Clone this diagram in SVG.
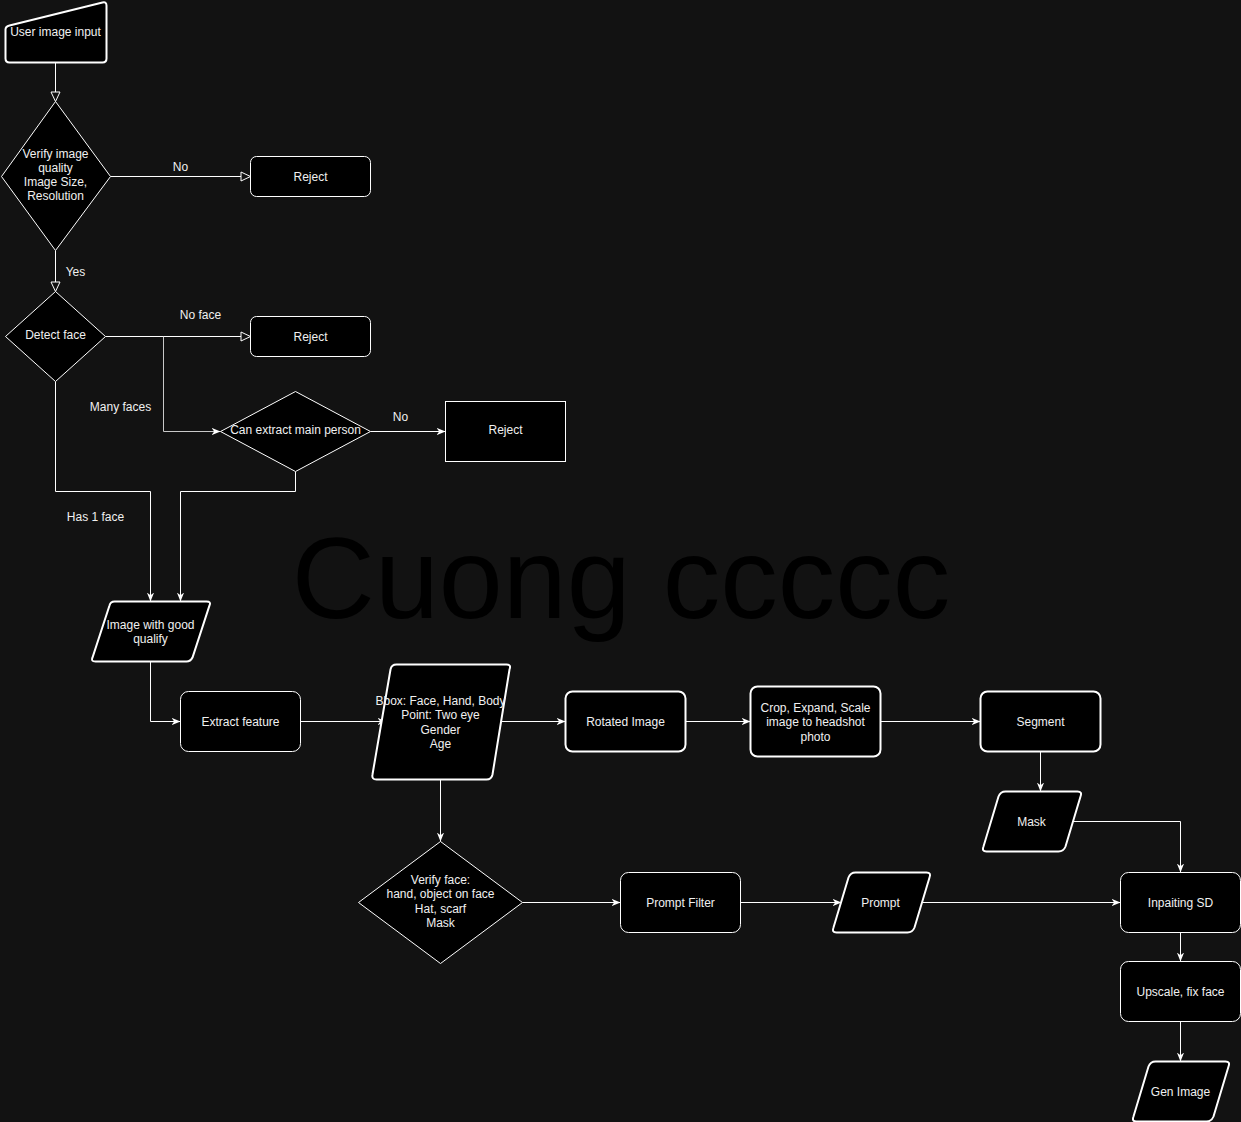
<svg xmlns="http://www.w3.org/2000/svg" width="1241" height="1122" viewBox="0 0 1241 1122">
<defs>
<style>
.n{fill:#000;stroke:#fff;stroke-width:1}
.t{stroke-width:2}
.tx{fill:#f0f0f0;font-family:"Liberation Sans",Arial,sans-serif;font-size:12px;text-anchor:middle}
.lb{fill:#f0f0f0;font-family:"Liberation Sans",Arial,sans-serif;font-size:12px;text-anchor:middle}
.e{fill:none;stroke:#fff;stroke-width:1}
.c{marker-end:url(#classic)}
.o{marker-end:url(#open)}
</style>
<marker id="classic" markerUnits="userSpaceOnUse" viewBox="0 0 10 10" refX="10" refY="5" markerWidth="9" markerHeight="9" orient="auto">
<path d="M0,1 L10,5 L0,9 L3,5 z" fill="#fff"/>
</marker>
<marker id="open" markerUnits="userSpaceOnUse" viewBox="0 0 12 12" refX="11" refY="6" markerWidth="12" markerHeight="12" orient="auto">
<path d="M1.5,1.5 L11,6 L1.5,10.5 z" fill="#121212" stroke="#fff" stroke-width="1"/>
</marker>
</defs>
<rect width="1241" height="1122" fill="#121212"/>
<text x="621" y="618" font-family="'Liberation Sans',Arial,sans-serif" font-size="115" fill="#000" text-anchor="middle">Cuong ccccc</text>
<g transform="translate(0.5,0.5)">
<g id="edges">
<path class="e o" d="M55,62 V101"/>
<path class="e o" d="M110,176 H250"/>
<path class="e o" d="M55,250 V291"/>
<path class="e o" d="M105,336 H250"/>
<path class="e c" d="M163,336 V431 H220" stroke="#bbb" style="stroke:#c8c8c8"/>
<path class="e c" d="M370,431 H445"/>
<path class="e c" d="M55,381 V491 H150 V601"/>
<path class="e c" d="M295,471 V491 H180 V601"/>
<path class="e c" d="M150,661 V721 H180"/>
<path class="e c" d="M300,721 H386"/>
<path class="e c" d="M500,721 H565"/>
<path class="e c" d="M685,721 H750"/>
<path class="e c" d="M880,721 H980"/>
<path class="e c" d="M1040,751 V791"/>
<path class="e c" d="M1071,821 H1180 V872"/>
<path class="e c" d="M440,779 V841"/>
<path class="e c" d="M522,902 H620"/>
<path class="e c" d="M740,902 H841"/>
<path class="e c" d="M921,902 H1120"/>
<path class="e c" d="M1180,932 V961"/>
<path class="e c" d="M1180,1021 V1061"/>
<text class="lb" x="180" y="170" font-size="11">No</text>
<text class="lb" x="75" y="275" font-size="11">Yes</text>
<text class="lb" x="200" y="318">No face</text>
<text class="lb" x="120" y="410">Many faces</text>
<text class="lb" x="400" y="420">No</text>
<text class="lb" x="95" y="520">Has 1 face</text>
</g>

<g id="user-input">
<path class="n t" d="M9,25 L102,2 Q106,1 106,5 V58 Q106,62 102,62 H9 Q5,62 5,58 V29 Q5,26 9,25 Z"/>
<text class="tx" x="55" y="35">User image input</text>
</g>
<g id="verify-quality">
<path class="n" d="M55,101 L110,176 L55,250 L1,176 Z"/>
<text class="tx" x="55" y="157">Verify image</text>
<text class="tx" x="55" y="171">quality</text>
<text class="tx" x="55" y="185">Image Size,</text>
<text class="tx" x="55" y="199">Resolution</text>
</g>
<g id="reject1">
<rect class="n" x="250" y="156" width="120" height="40" rx="6"/>
<text class="tx" x="310" y="180">Reject</text>
</g>
<g id="detect-face">
<path class="n" d="M55,291 L105,336 L55,381 L5,336 Z"/>
<text class="tx" x="55" y="338">Detect face</text>
</g>
<g id="reject2">
<rect class="n" x="250" y="316" width="120" height="40" rx="6"/>
<text class="tx" x="310" y="340">Reject</text>
</g>
<g id="extract-main">
<path class="n" d="M295,391 L370,431 L295,471 L220,431 Z"/>
<text class="tx" x="295" y="433">Can extract main person</text>
</g>
<g id="reject3">
<rect class="n" x="445" y="401" width="120" height="60"/>
<text class="tx" x="505" y="433">Reject</text>
</g>
<g id="good-image">
<path class="n t" d="M114,601 H206 Q211,601 209,605 L192,657 Q190,661 186,661 H95 Q90,661 92,657 L109,605 Q110,601 114,601 Z"/>
<text class="tx" x="150" y="628">Image with good</text>
<text class="tx" x="150" y="642">qualify</text>
</g>
<g id="extract-feature">
<rect class="n" x="180" y="691" width="120" height="60" rx="8"/>
<text class="tx" x="240" y="725">Extract feature</text>
</g>
<g id="features">
<path class="n t" d="M396,664 H506 Q511,664 509,669 L492,774 Q491,779 486,779 H376 Q371,779 372,774 L390,669 Q391,664 396,664 Z"/>
<text class="tx" x="440" y="704">Bbox: Face, Hand, Body</text>
<text class="tx" x="440" y="718">Point: Two eye</text>
<text class="tx" x="440" y="733">Gender</text>
<text class="tx" x="440" y="747">Age</text>
</g>
<g id="rotated">
<rect class="n t" x="565" y="691" width="120" height="60" rx="7"/>
<text class="tx" x="625" y="725">Rotated Image</text>
</g>
<g id="crop">
<rect class="n t" x="750" y="686" width="130" height="70" rx="7"/>
<text class="tx" x="815" y="711">Crop, Expand, Scale</text>
<text class="tx" x="815" y="725">image to headshot</text>
<text class="tx" x="815" y="740">photo</text>
</g>
<g id="segment">
<rect class="n t" x="980" y="691" width="120" height="60" rx="7"/>
<text class="tx" x="1040" y="725">Segment</text>
</g>
<g id="mask">
<path class="n t" d="M1005,791 H1077 Q1082,791 1080,796 L1065,846 Q1063,851 1058,851 H986 Q981,851 983,846 L998,796 Q1000,791 1005,791 Z"/>
<text class="tx" x="1031" y="825">Mask</text>
</g>
<g id="verify-face">
<path class="n" d="M440,841 L522,902 L440,963 L358,902 Z"/>
<text class="tx" x="440" y="883">Verify face:</text>
<text class="tx" x="440" y="897">hand, object on face</text>
<text class="tx" x="440" y="912">Hat, scarf</text>
<text class="tx" x="440" y="926">Mask</text>
</g>
<g id="prompt-filter">
<rect class="n" x="620" y="872" width="120" height="60" rx="8"/>
<text class="tx" x="680" y="906">Prompt Filter</text>
</g>
<g id="prompt">
<path class="n t" d="M855,872 H926 Q931,872 929,877 L914,927 Q912,932 907,932 H836 Q831,932 833,927 L848,877 Q850,872 855,872 Z"/>
<text class="tx" x="880" y="906">Prompt</text>
</g>
<g id="inpainting">
<rect class="n" x="1120" y="872" width="120" height="60" rx="8"/>
<text class="tx" x="1180" y="906">Inpaiting SD</text>
</g>
<g id="upscale">
<rect class="n" x="1120" y="961" width="120" height="60" rx="8"/>
<text class="tx" x="1180" y="995">Upscale, fix face</text>
</g>
<g id="gen-image">
<path class="n t" d="M1155,1061 H1225 Q1230,1061 1228,1066 L1213,1116 Q1211,1121 1206,1121 H1136 Q1131,1121 1133,1116 L1148,1066 Q1150,1061 1155,1061 Z"/>
<text class="tx" x="1180" y="1095">Gen Image</text>
</g>
</g>
</svg>
